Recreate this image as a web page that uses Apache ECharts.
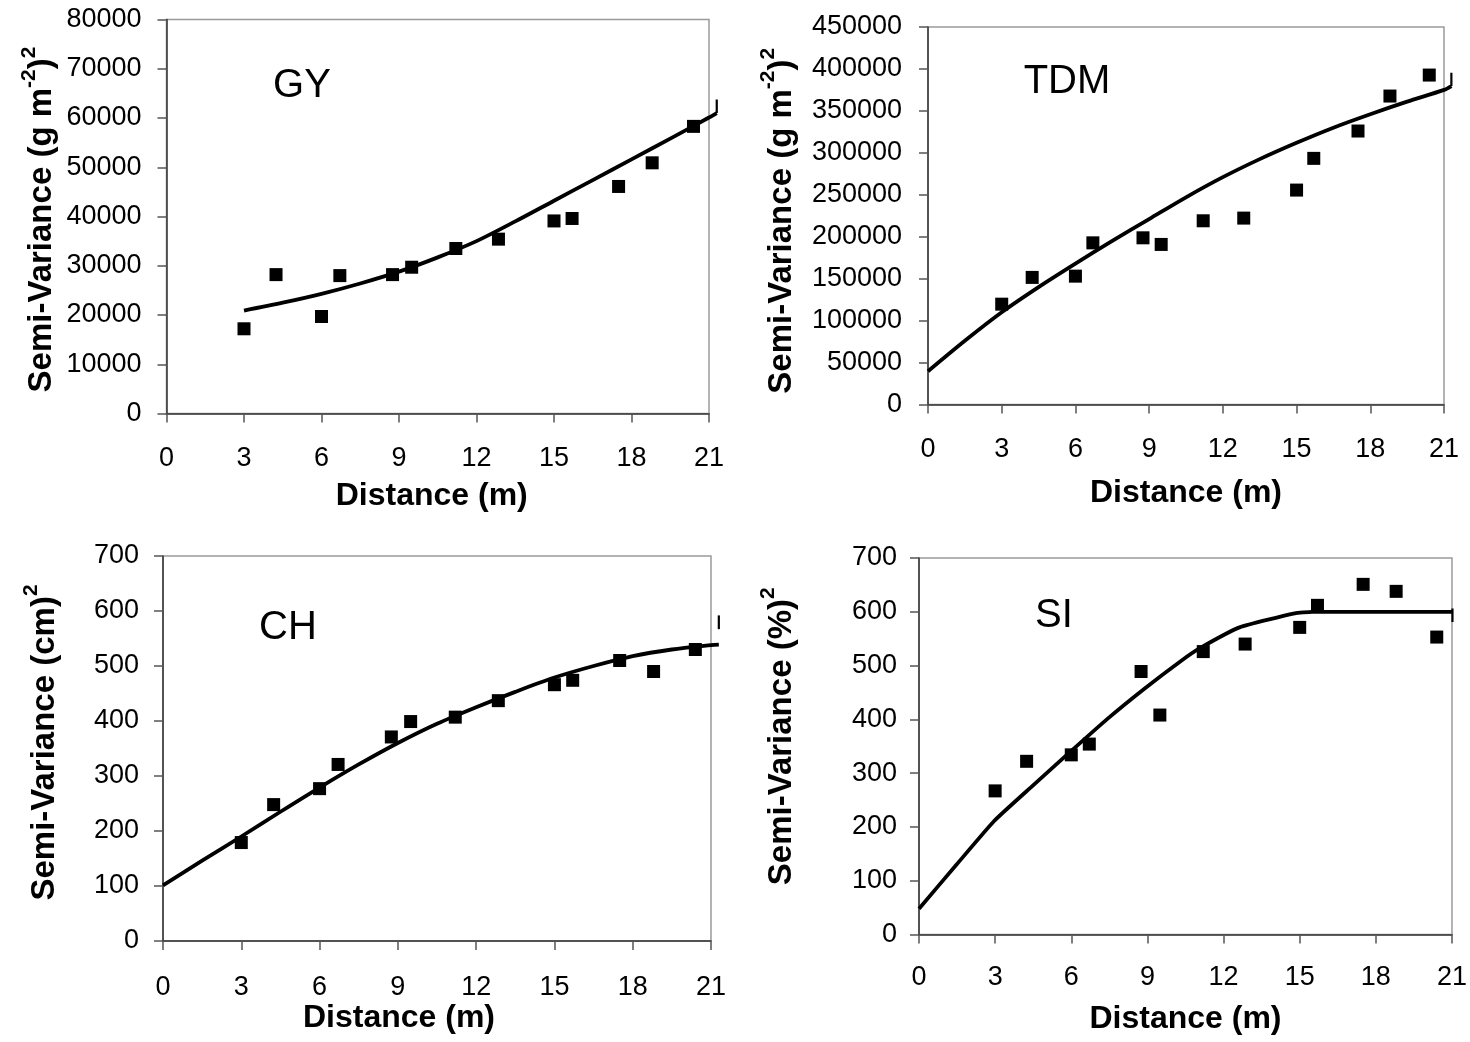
<!DOCTYPE html>
<html>
<head>
<meta charset="utf-8">
<script src="https://cdn.jsdelivr.net/npm/echarts@6/dist/echarts.min.js"></script>
<style>
html,body{margin:0;padding:0;background:#fff;}
#chart{width:1470px;height:1042px;}
</style>
</head>
<body>
<div id="chart"></div>
<script>
// ---- data ----
const distances = [3, 4.24, 6, 6.71, 8.75, 9.49, 11.2, 12.85, 15, 15.7, 17.5, 18.8, 20.4];
const xTicks = [0, 3, 6, 9, 12, 15, 18, 21];

const gyObserved  = [17200, 28200, 19700, 28000, 28200, 29700, 33500, 35400, 39100, 39600, 46100, 50900, 58300];
const tdmObserved = [119600, 151500, 153000, 192700, 198700, 190800, 219000, 222200, 255600, 293400, 326000, 367700, 392700];
const chObserved  = [179, 248, 277, 321, 371, 399, 407, 437, 466, 474, 510, 490, 530];
const siObserved  = [267, 322, 334, 354, 489, 408, 526, 540, 571, 612, 651, 638, 553];

// fitted model curves (x, y)
const gyModelX  = [3, 4.5, 6, 7.5, 9, 10.5, 12, 13.5, 15, 16.5, 18, 19.5, 21, 21.3];
const gyModelY  = [20900, 22500, 24300, 26400, 28800, 31700, 35000, 39000, 43200, 47400, 51600, 55800, 60100, 61000];
const tdmModelX = [0, 1.5, 3, 4.5, 6, 7.5, 9, 10.5, 12, 13.5, 15, 16.5, 18, 19.5, 21, 21.3];
const tdmModelY = [39700, 76000, 110000, 140000, 168000, 195000, 221000, 247000, 271000, 292500, 312000, 330000, 346000, 361000, 375000, 379600];
const chModelX  = [0, 1.5, 3, 4.5, 6, 7.5, 9, 10.5, 12, 13.5, 15, 16.5, 18, 19.5, 21, 21.3];
const chModelY  = [101, 146, 190, 235, 279, 321, 360, 395, 425, 453, 479, 500, 518, 530, 538, 539];
const siModelX  = [0, 1.5, 3, 4.5, 6, 7.5, 9, 10.5, 11.2, 12.8, 15, 15.7, 21, 21.3];
const siModelY  = [48, 130, 211, 275, 338, 400, 457, 510, 532, 571, 597, 600, 600, 600];

// short vertical strokes at the right end of each curve (x, yFrom, yTo)
const gyEndStroke  = [21.3, 61000, 63750];
const tdmEndStroke = [21.3, 379600, 395500];
const chEndStroke  = [21.3, 567, 592];
const siEndStroke  = [21.3, 581, 606];

const panels = [
  { label: 'GY',  yMax: 80000,  yStep: 10000, obs: gyObserved,  mx: gyModelX,  my: gyModelY,  end: gyEndStroke,  smooth: 0.3,
    yName: '{b|Semi-Variance (g m}{s|-2}{b|)}{s|2}' },
  { label: 'TDM', yMax: 450000, yStep: 50000, obs: tdmObserved, mx: tdmModelX, my: tdmModelY, end: tdmEndStroke, smooth: 0.3,
    yName: '{b|Semi-Variance (g m}{s|-2}{b|)}{s|2}' },
  { label: 'CH',  yMax: 700,    yStep: 100,   obs: chObserved,  mx: chModelX,  my: chModelY,  end: chEndStroke,  smooth: 0.3,
    yName: '{b|Semi-Variance (cm)}{s|2}' },
  { label: 'SI',  yMax: 700,    yStep: 100,   obs: siObserved,  mx: siModelX,  my: siModelY,  end: siEndStroke,  smooth: 0.15,
    yName: '{b|Semi-Variance (%)}{s|2}' }
];

// ---- layout (pixels) ----
const layout = [
  { left: 166.5, top: 19.5, width: 542.5, height: 394,   xMargin: 32, yMargin: 25, xGap: 67, xPad: [0, 12, 0, 0], yGap: 108, yPad: [0, 6, 0, 0],  lx: 302,  ly: 86 },
  { left: 928,   top: 27,   width: 516,   height: 377.5, xMargin: 32, yMargin: 26, xGap: 73, xPad: [0, 0, 0, 0],  yGap: 130, yPad: [0, 10, 0, 0], lx: 1067, ly: 82 },
  { left: 163,   top: 556,  width: 548,   height: 385,   xMargin: 33, yMargin: 24, xGap: 56, xPad: [0, 76, 0, 0], yGap: 102, yPad: [0, 0, 0, 12], lx: 288,  ly: 628 },
  { left: 919,   top: 558,  width: 534,   height: 376.5, xMargin: 30, yMargin: 22, xGap: 69, xPad: [0, 0, 0, 0],  yGap: 121, yPad: [0, 0, 0, 20], lx: 1054, ly: 616 }
];
const overlayXMax = 22; // hidden overlay axis lets the curve run slightly past x = 21

const FONT = 'Liberation Sans, Arial, Helvetica, sans-serif';
const plain = v => String(v);

const grid = [], xAxis = [], yAxis = [], series = [], graphic = [];
panels.forEach((p, i) => {
  const L = layout[i];
  grid.push({ left: L.left, top: L.top, width: L.width, height: L.height,
    show: true, borderColor: '#9a9a9a', borderWidth: 1.5, backgroundColor: 'transparent' });
  xAxis.push({
    type: 'value', gridIndex: i, min: xTicks[0], max: xTicks[xTicks.length - 1], interval: 3,
    name: 'Distance (m)', nameLocation: 'middle', nameGap: L.xGap,
    nameTextStyle: { fontFamily: FONT, fontWeight: 'bold', fontSize: 32, color: '#000', padding: L.xPad },
    axisLine: { show: true, onZero: false, lineStyle: { color: '#333', width: 1.5 } },
    axisTick: { show: true, inside: false, length: 9, lineStyle: { color: '#555', width: 1.5 } },
    axisLabel: { show: true, margin: L.xMargin, fontFamily: FONT, fontSize: 27, color: '#000', formatter: plain },
    splitLine: { show: false }
  });
  yAxis.push({
    type: 'value', gridIndex: i, min: 0, max: p.yMax, interval: p.yStep,
    name: p.yName, nameLocation: 'middle', nameGap: L.yGap, nameRotate: 90,
    nameTextStyle: {
      fontFamily: FONT, color: '#000', padding: L.yPad,
      rich: {
        b: { fontFamily: FONT, fontWeight: 'bold', fontSize: 33, lineHeight: 40, verticalAlign: 'bottom', color: '#000' },
        s: { fontFamily: FONT, fontWeight: 'bold', fontSize: 21, lineHeight: 21, verticalAlign: 'top', color: '#000' }
      }
    },
    axisLine: { show: true, onZero: false, lineStyle: { color: '#333', width: 1.5 } },
    axisTick: { show: true, inside: false, length: 9, lineStyle: { color: '#555', width: 1.5 } },
    axisLabel: { show: true, margin: L.yMargin, fontFamily: FONT, fontSize: 27, color: '#000', formatter: plain },
    splitLine: { show: false }
  });
  series.push({
    type: 'scatter', xAxisIndex: i, yAxisIndex: i, symbol: 'rect', symbolSize: 13,
    data: distances.map((x, k) => [x, p.obs[k]]),
    itemStyle: { color: '#000', opacity: 1 }, z: 4
  });
  graphic.push({ type: 'text', x: L.lx, y: L.ly, z: 10,
    style: { text: p.label, fontFamily: FONT, fontSize: 40, fill: '#000', align: 'center', verticalAlign: 'middle' } });
});

// overlay grids (hidden axes, same scale, slightly wider) for the model curves
panels.forEach((p, i) => {
  const L = layout[i];
  const gi = panels.length + i;
  grid.push({ left: L.left, top: L.top, width: L.width * overlayXMax / 21, height: L.height, show: false });
  xAxis.push({ type: 'value', gridIndex: gi, min: 0, max: overlayXMax, show: false });
  yAxis.push({ type: 'value', gridIndex: gi, min: 0, max: p.yMax, show: false });
  series.push({
    type: 'line', xAxisIndex: gi, yAxisIndex: gi, showSymbol: false, silent: true, smooth: p.smooth,
    data: p.mx.map((x, k) => [x, p.my[k]]),
    lineStyle: { color: '#000', width: 3.8, join: 'round', cap: 'butt' }, z: 3
  });
  series.push({
    type: 'line', xAxisIndex: gi, yAxisIndex: gi, showSymbol: false, silent: true,
    data: [[p.end[0], p.end[1]], [p.end[0], p.end[2]]],
    lineStyle: { color: '#000', width: 2.2 }, z: 3
  });
});

const chart = echarts.init(document.getElementById('chart'), null, { renderer: 'canvas' });
chart.setOption({
  animation: false,
  backgroundColor: '#fff',
  grid, xAxis, yAxis, series, graphic
});
</script>
</body>
</html>
